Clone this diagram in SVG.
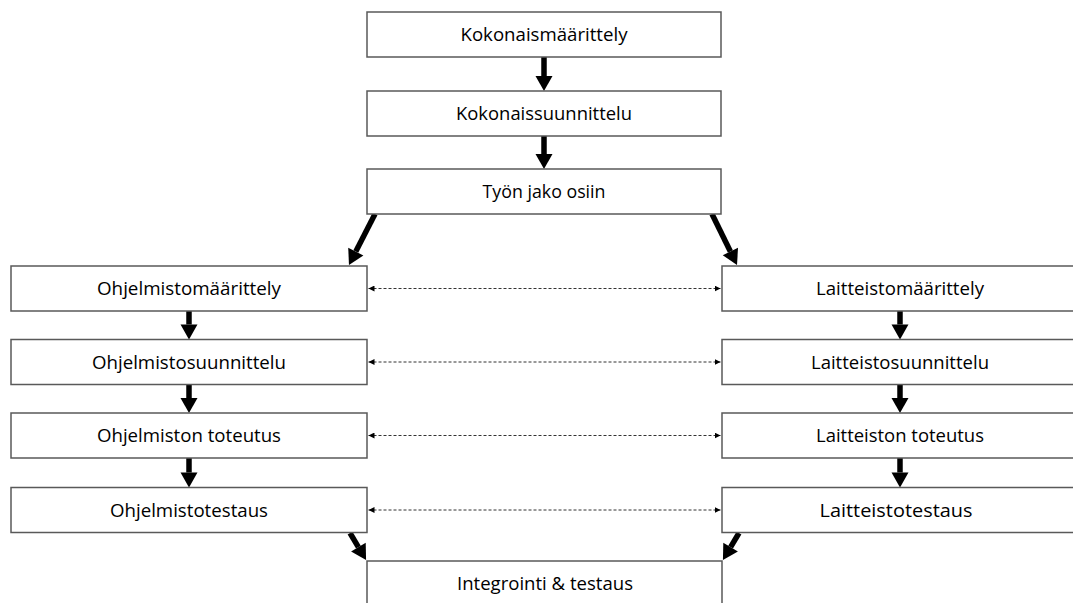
<svg xmlns="http://www.w3.org/2000/svg" width="1073" height="603" viewBox="0 0 1073 603">
  <defs>
    <style>
      .box { fill: #ffffff; stroke: #595959; stroke-width: 1.5; }
      .lbl { font-family: "Open Sans", "Liberation Sans", sans-serif; font-size: 18px; fill: #000000; text-anchor: middle; }
      .flow { stroke: #000000; stroke-width: 5.5; fill: none; marker-end: url(#head); }
      .link { stroke: #333333; stroke-width: 1; stroke-dasharray: 3 2; fill: none; marker-start: url(#tip); marker-end: url(#tip); }
    </style>
    <marker id="head" markerUnits="userSpaceOnUse" markerWidth="16" markerHeight="17" refX="0" refY="8.5" orient="auto" overflow="visible">
      <path d="M0,0 L15,8.5 L0,17 z" fill="#000000"/>
    </marker>
    <marker id="tip" markerUnits="userSpaceOnUse" markerWidth="7" markerHeight="6" refX="6" refY="3" orient="auto-start-reverse">
      <path d="M0,0 L6,3 L0,6 z" fill="#000000"/>
    </marker>
  </defs>

  <rect width="1073" height="603" fill="#ffffff"/>

  <!-- connectors -->
  <g id="connectors">
    <line class="flow" x1="544" y1="57" x2="544" y2="76"/>
    <line class="flow" x1="544" y1="136" x2="544" y2="154"/>
    <line class="flow" x1="375" y1="214" x2="355.8" y2="251.6"/>
    <line class="flow" x1="712" y1="214" x2="730.4" y2="251.5"/>
    <line class="flow" x1="189" y1="311" x2="189" y2="324.5"/>
    <line class="flow" x1="189" y1="384.5" x2="189" y2="398"/>
    <line class="flow" x1="189" y1="458" x2="189" y2="472.5"/>
    <line class="flow" x1="900" y1="311" x2="900" y2="324.5"/>
    <line class="flow" x1="900" y1="384.5" x2="900" y2="398"/>
    <line class="flow" x1="900" y1="458" x2="900" y2="472.5"/>
    <line class="flow" x1="350" y1="533" x2="358.4" y2="547.1"/>
    <line class="flow" x1="739" y1="533" x2="730.6" y2="547.1"/>
    <line class="link" x1="368.5" y1="288.5" x2="720.5" y2="288.5"/>
    <line class="link" x1="368.5" y1="362" x2="720.5" y2="362"/>
    <line class="link" x1="368.5" y1="435.5" x2="720.5" y2="435.5"/>
    <line class="link" x1="368.5" y1="510" x2="720.5" y2="510"/>
  </g>

  <g id="kokonaismaarittely">
    <rect class="box" x="367" y="12" width="354" height="45"/>
    <text class="lbl" x="544" y="41" textLength="167" lengthAdjust="spacingAndGlyphs">Kokonaismäärittely</text>
  </g>
  <g id="kokonaissuunnittelu">
    <rect class="box" x="367" y="91" width="354" height="45"/>
    <text class="lbl" x="544" y="120" textLength="176" lengthAdjust="spacingAndGlyphs">Kokonaissuunnittelu</text>
  </g>
  <g id="tyon-jako">
    <rect class="box" x="367" y="169" width="354" height="45"/>
    <text class="lbl" x="544" y="198" textLength="123" lengthAdjust="spacingAndGlyphs">Työn jako osiin</text>
  </g>

  <g id="ohjelmistomaarittely">
    <rect class="box" x="11" y="266" width="356" height="45"/>
    <text class="lbl" x="189" y="295" textLength="184" lengthAdjust="spacingAndGlyphs">Ohjelmistomäärittely</text>
  </g>
  <g id="ohjelmistosuunnittelu">
    <rect class="box" x="11" y="339.5" width="356" height="45"/>
    <text class="lbl" x="189" y="368.5" textLength="194" lengthAdjust="spacingAndGlyphs">Ohjelmistosuunnittelu</text>
  </g>
  <g id="ohjelmiston-toteutus">
    <rect class="box" x="11" y="413" width="356" height="45"/>
    <text class="lbl" x="189" y="442" textLength="184" lengthAdjust="spacingAndGlyphs">Ohjelmiston toteutus</text>
  </g>
  <g id="ohjelmistotestaus">
    <rect class="box" x="11" y="487.5" width="356" height="45"/>
    <text class="lbl" x="189" y="516.5" textLength="158" lengthAdjust="spacingAndGlyphs">Ohjelmistotestaus</text>
  </g>

  <g id="laitteistomaarittely">
    <rect class="box" x="722" y="266" width="356" height="45"/>
    <text class="lbl" x="900" y="295" textLength="168" lengthAdjust="spacingAndGlyphs">Laitteistomäärittely</text>
  </g>
  <g id="laitteistosuunnittelu">
    <rect class="box" x="722" y="339.5" width="356" height="45"/>
    <text class="lbl" x="900" y="368.5" textLength="178" lengthAdjust="spacingAndGlyphs">Laitteistosuunnittelu</text>
  </g>
  <g id="laitteiston-toteutus">
    <rect class="box" x="722" y="413" width="356" height="45"/>
    <text class="lbl" x="900" y="442" textLength="168" lengthAdjust="spacingAndGlyphs">Laitteiston toteutus</text>
  </g>
  <g id="laitteistotestaus">
    <rect class="box" x="722" y="487.5" width="356" height="45"/>
    <text class="lbl" x="896" y="516.5" textLength="153" lengthAdjust="spacingAndGlyphs">Laitteistotestaus</text>
  </g>

  <g id="integrointi">
    <rect class="box" x="367" y="561" width="355" height="45"/>
    <text class="lbl" x="545" y="590" textLength="176" lengthAdjust="spacingAndGlyphs">Integrointi &amp; testaus</text>
  </g>
</svg>
